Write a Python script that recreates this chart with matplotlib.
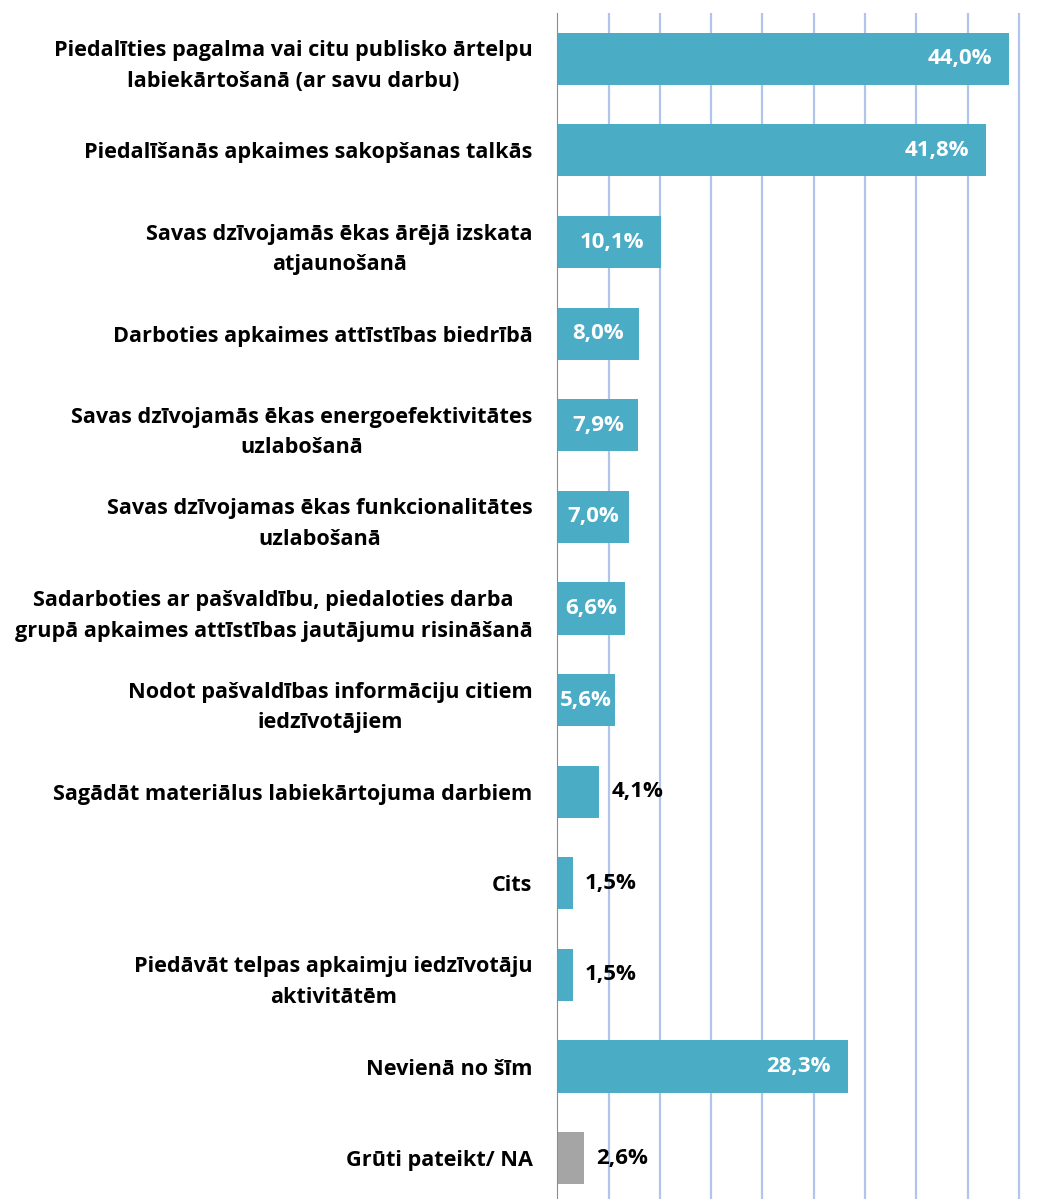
import matplotlib
matplotlib.use("Agg")
import matplotlib.pyplot as plt
import numpy as np

plt.rcParams['font.family'] = ['Open Sans', 'DejaVu Sans']

categories = [
    "Piedalīties pagalma vai citu publisko ārtelpu\nlabiekārtošanā (ar savu darbu)",
    "Piedalīšanās apkaimes sakopšanas talkās",
    "Savas dzīvojamās ēkas ārējā izskata\natjaunošanā",
    "Darboties apkaimes attīstības biedrībā",
    "Savas dzīvojamās ēkas energoefektivitātes\nuzlabošanā",
    "Savas dzīvojamas ēkas funkcionalitātes\nuzlabošanā",
    "Sadarboties ar pašvaldību, piedaloties darba\ngrupā apkaimes attīstības jautājumu risināšanā",
    "Nodot pašvaldības informāciju citiem\niedzīvotājiem",
    "Sagādāt materiālus labiekārtojuma darbiem",
    "Cits",
    "Piedāvāt telpas apkaimju iedzīvotāju\naktivitātēm",
    "Nevienā no šīm",
    "Grūti pateikt/ NA",
]
values = [44.0, 41.8, 10.1, 8.0, 7.9, 7.0, 6.6, 5.6, 4.1, 1.5, 1.5, 28.3, 2.6]
colors = ["#4BACC6"] * 12 + ["#A5A5A5"]

fig = plt.figure(figsize=(10.57, 11.99), dpi=100)
ax = fig.add_axes([0.5274, -0.0042, 0.4726, 0.9934])

y = np.arange(len(values))
ax.barh(y, values, height=0.57, color=colors, zorder=3)

ax.set_xlim(0, 48.73)
ax.set_ylim(12.5, -0.5)
ax.set_xticks(np.arange(5, 50, 5))
ax.xaxis.grid(True, color="#B0C4EC", linewidth=1.6, zorder=0)
ax.tick_params(axis='x', length=0, labelbottom=False)
ax.tick_params(axis='y', length=0, pad=18)
ax.set_yticks(y)
ax.set_yticklabels(categories, fontsize=15.6, fontweight='bold',
                   linespacing=1.6, multialignment='center')

for s in ['top', 'right', 'bottom']:
    ax.spines[s].set_visible(False)
ax.spines['left'].set_color("#8C8C8C")
ax.spines['left'].set_zorder(4)

for i, v in enumerate(values):
    txt = f"{v:.1f}%".replace(".", ",")
    if v >= 8.6:
        ax.text(v - 1.6, i, txt, ha='right', va='center', color='white',
                fontsize=16, fontweight='bold', zorder=5)
    elif v >= 5:
        ax.text(v / 2, i, txt, ha='center', va='center', color='white',
                fontsize=16, fontweight='bold', zorder=5)
    else:
        ax.text(v + 1.2, i, txt, ha='left', va='center', color='black',
                fontsize=16, fontweight='bold', zorder=5)

fig.savefig("out.png", dpi=100)
